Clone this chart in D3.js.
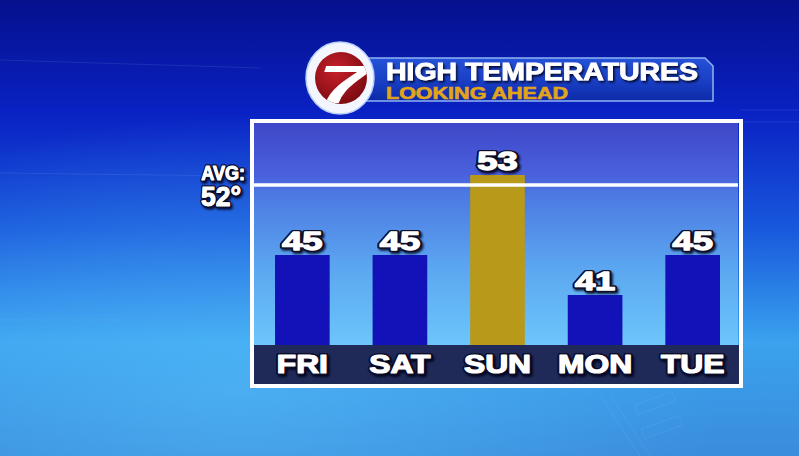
<!DOCTYPE html>
<html><head><meta charset="utf-8">
<script src="https://cdn.jsdelivr.net/npm/d3@7"></script>
<style>html,body{margin:0;padding:0;overflow:hidden;background:#0a20b0}</style>
</head><body>
<svg id="c" width="799" height="456"></svg>
<script>
const days = ["FRI", "SAT", "SUN", "MON", "TUE"];
const highs = [45, 45, 53, 41, 45];
const avgTemp = 52;
const titleText = "HIGH TEMPERATURES";
const subtitleText = "LOOKING AHEAD";
const avgLabel = ["AVG:", avgTemp + "°"];

const W = 799, H = 456;
const svg = d3.select("#c");
const defs = svg.append("defs");

const bg = defs.append("linearGradient").attr("id", "bg").attr("x1", 0).attr("y1", 0).attr("x2", 0).attr("y2", 1);
[[0, "#05108c"], [0.25, "#0a22c4"], [0.5, "#1858dc"], [0.75, "#3aa2ee"], [1, "#3a8cdc"]].forEach(s => bg.append("stop").attr("offset", s[0]).attr("stop-color", s[1]));
const glow = defs.append("radialGradient").attr("id", "glow").attr("cx", 0.3).attr("cy", 0.85).attr("r", 0.6);
glow.append("stop").attr("offset", 0).attr("stop-color", "#5ec8ff").attr("stop-opacity", 0.45);
glow.append("stop").attr("offset", 1).attr("stop-color", "#5ec8ff").attr("stop-opacity", 0);

const panel = defs.append("linearGradient").attr("id", "panel").attr("x1", 0).attr("y1", 0).attr("x2", 0).attr("y2", 1);
[[0, "#3e46c6"], [0.25, "#4a62de"], [0.32, "#4c78e2"], [0.65, "#5ba6f0"], [1, "#6cc6fb"]].forEach(s => panel.append("stop").attr("offset", s[0]).attr("stop-color", s[1]));

const ban = defs.append("linearGradient").attr("id", "ban").attr("x1", 0).attr("y1", 0).attr("x2", 0).attr("y2", 1);
[[0, "#2452d8"], [0.5, "#1a40c6"], [1, "#0c2aa8"]].forEach(s => ban.append("stop").attr("offset", s[0]).attr("stop-color", s[1]));

const red = defs.append("radialGradient").attr("id", "red").attr("cx", 0.4).attr("cy", 0.35).attr("r", 0.7);
red.append("stop").attr("offset", 0).attr("stop-color", "#c8202a");
red.append("stop").attr("offset", 1).attr("stop-color", "#7a0a10");

const sh = defs.append("filter").attr("id", "sh").attr("x", "-20%").attr("y", "-30%").attr("width", "140%").attr("height", "160%");
sh.append("feDropShadow").attr("dx", 1.5).attr("dy", 2).attr("stdDeviation", 1).attr("flood-color", "#000018").attr("flood-opacity", 0.85);

defs.append("clipPath").attr("id", "logoClip").append("circle").attr("cx", 341).attr("cy", 78).attr("r", 26);

svg.append("rect").attr("width", W).attr("height", H).attr("fill", "url(#bg)");
svg.append("rect").attr("width", W).attr("height", H).attr("fill", "url(#glow)");

const deco = svg.append("g").attr("stroke", "#9fd0ff").attr("fill", "none").attr("stroke-opacity", 0.12);
deco.append("line").attr("x1", 0).attr("y1", 60).attr("x2", 260).attr("y2", 68);
deco.append("line").attr("x1", 0).attr("y1", 173).attr("x2", 240).attr("y2", 176);
deco.append("line").attr("x1", 740).attr("y1", 110).attr("x2", 799).attr("y2", 110);
deco.append("line").attr("x1", 740).attr("y1", 122).attr("x2", 799).attr("y2", 122);
deco.append("line").attr("x1", 0).attr("y1", 320).attr("x2", 120).attr("y2", 320);
deco.append("line").attr("x1", 600).attr("y1", 395).attr("x2", 640).attr("y2", 456);
deco.append("line").attr("x1", 610).attr("y1", 395).attr("x2", 650).attr("y2", 456);
deco.append("rect").attr("x", 635).attr("y", 398).attr("width", 40).attr("height", 10).attr("transform", "rotate(-20 655 403)");
deco.append("rect").attr("x", 642).attr("y", 422).attr("width", 40).attr("height", 10).attr("transform", "rotate(-20 662 427)");

const x = d3.scaleBand().domain(days).range([255.5, 739.5]).paddingInner(0.44).paddingOuter(0.2);
const y = d3.scaleLinear().domain([36, 58.4]).range([345, 121]);

svg.append("rect").attr("x", 254).attr("y", 121).attr("width", 484).attr("height", 224).attr("fill", "url(#panel)");
svg.append("rect").attr("x", 254).attr("y", 345).attr("width", 485).attr("height", 39).attr("fill", "#1f2a58");

svg.append("g").selectAll("rect").data(highs).join("rect")
  .attr("x", (d, i) => x(days[i]))
  .attr("width", x.bandwidth())
  .attr("y", d => y(d))
  .attr("height", d => y.range()[0] - y(d))
  .attr("fill", d => d > avgTemp ? "#b8991a" : "#1212b8");

svg.append("line").attr("x1", 254).attr("x2", 738).attr("y1", y(avgTemp)).attr("y2", y(avgTemp))
  .attr("stroke", "#ffffff").attr("stroke-width", 3.5);

svg.append("rect").attr("x", 252).attr("y", 121).attr("width", 489).attr("height", 265)
  .attr("fill", "none").attr("stroke", "#ffffff").attr("stroke-width", 4);

const bold = "'Liberation Sans', Arial, sans-serif";

// heavy text: dark outline + shadow layer, then white fill with white stroke for weight
function heavyText(g, data, opts) {
  const layers = [
    { stroke: "#0a0a28", sw: opts.outline, filter: "url(#sh)" },
    { stroke: opts.fill, sw: opts.weight, filter: null }
  ];
  layers.forEach((L, li) => {
    const t = g.append("g").selectAll("text").data(data).join("text")
      .attr("x", opts.x).attr("y", opts.y)
      .attr("text-anchor", opts.anchor || "middle")
      .attr("font-family", bold).attr("font-weight", "bold").attr("font-size", opts.size)
      .attr("fill", opts.fill).attr("stroke", L.stroke).attr("stroke-width", L.sw)
      .attr("stroke-linejoin", "round").attr("paint-order", "stroke")
      .attr("filter", L.filter)
      .attr("aria-hidden", li === 0 ? "true" : null)
      .text(opts.text);
    if (opts.k) t.each(function () {
      const len = this.getComputedTextLength();
      d3.select(this).attr("textLength", len * opts.k).attr("lengthAdjust", "spacingAndGlyphs");
    });
  });
}

heavyText(svg.append("g"), highs, {
  x: (d, i) => x(days[i]) + x.bandwidth() / 2, y: d => y(d) - 5,
  size: 25, k: 1.45, fill: "#ffffff", outline: 4, weight: 1.3, text: d => d
});

heavyText(svg.append("g"), days, {
  x: d => x(d) + x.bandwidth() / 2, y: 373,
  size: 25, k: 1.27, fill: "#ffffff", outline: 4, weight: 1.2, text: d => d
});

heavyText(svg.append("g"), [avgLabel[0]], {
  x: 245, y: 180, anchor: "end", size: 21, k: 0.86, fill: "#ffffff", outline: 3.5, weight: 1, text: d => d
});
heavyText(svg.append("g"), [avgLabel[1]], {
  x: 241, y: 206, anchor: "end", size: 27, k: 0.98, fill: "#ffffff", outline: 3.5, weight: 1, text: d => d
});

// title banner
svg.append("path")
  .attr("d", "M360,58 L705,58 L713,66 L713,101 L360,101 Z")
  .attr("fill", "url(#ban)").attr("stroke", "#8fb4f4").attr("stroke-width", 1.5);
svg.append("text").attr("x", 386).attr("y", 79.5)
  .attr("font-family", bold).attr("font-weight", "bold").attr("font-size", 23)
  .attr("fill", "#fff").attr("stroke", "#fff").attr("stroke-width", 0.8).attr("filter", "url(#sh)")
  .attr("textLength", 312).attr("lengthAdjust", "spacingAndGlyphs").text(titleText);
svg.append("text").attr("x", 386).attr("y", 98.5)
  .attr("font-family", bold).attr("font-weight", "bold").attr("font-size", 16)
  .attr("fill", "#e2a51a").attr("stroke", "#e2a51a").attr("stroke-width", 0.6)
  .attr("textLength", 182).attr("lengthAdjust", "spacingAndGlyphs").text(subtitleText);

// logo
svg.append("ellipse").attr("cx", 340).attr("cy", 78).attr("rx", 34).attr("ry", 36)
  .attr("fill", "#f4f6ff").attr("stroke", "#b8d0ff").attr("stroke-width", 1.5);
svg.append("circle").attr("cx", 341).attr("cy", 78).attr("r", 26).attr("fill", "url(#red)");
svg.append("g").attr("clip-path", "url(#logoClip)")
  .append("text").attr("x", 343).attr("y", 103).attr("text-anchor", "middle")
  .attr("font-family", bold).attr("font-weight", "bold").attr("font-style", "italic").attr("font-size", 54)
  .attr("fill", "#ffffff").attr("textLength", 50).attr("lengthAdjust", "spacingAndGlyphs").text("7");
</script>
</body></html>
